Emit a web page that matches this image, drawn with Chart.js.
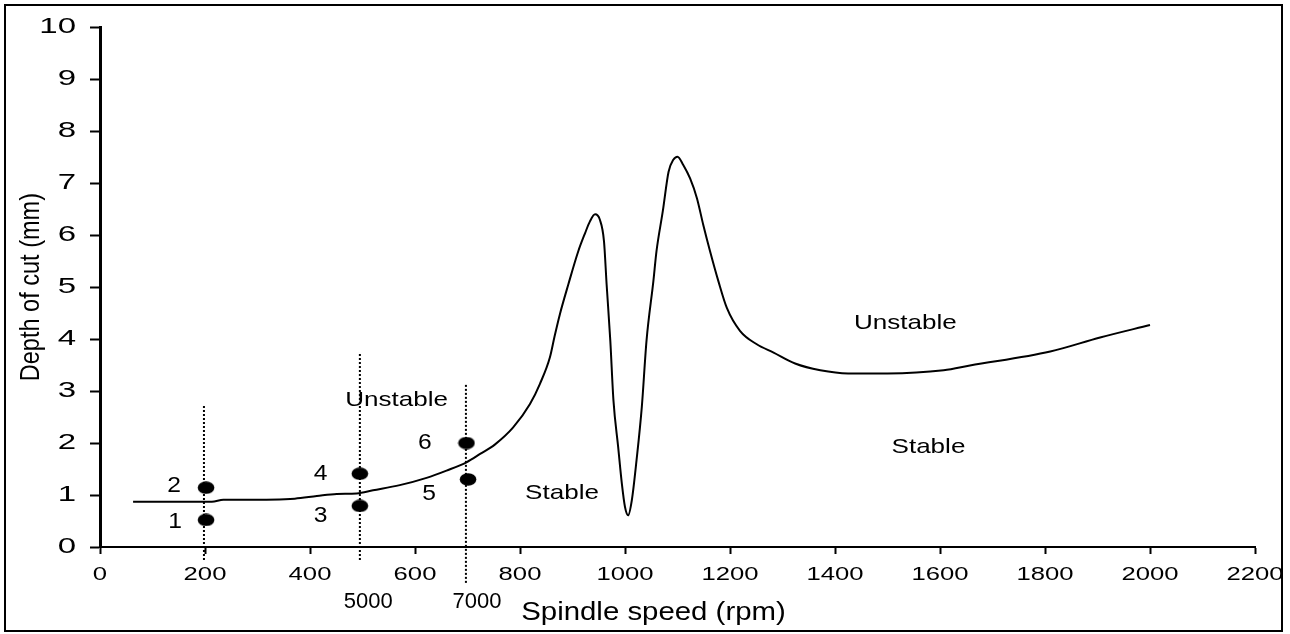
<!DOCTYPE html>
<html><head><meta charset="utf-8">
<script src="https://cdn.jsdelivr.net/npm/chart.js@4.4.1/dist/chart.umd.min.js"></script>
<style>html,body{margin:0;padding:0;background:#fff;}</style>
</head><body>
<canvas id="c" width="1290" height="634"></canvas>
<script>
// ---- data ----
const speeds = [63,213,235,272,371,413,451,489,520,571,622,660,698,724,752,787,819,838,857,866,876,892,911,924,933,943,952,960,965,972,978,987,994,1000,1006,1013,1022,1032,1041,1054,1060,1072,1083,1092,1100,1111,1124,1137,1149,1162,1178,1194,1219,1251,1283,1324,1372,1425,1500,1607,1657,1810,1905,2000];
const depths = [0.87,0.87,0.91,0.91,0.93,0.98,1.02,1.03,1.09,1.19,1.33,1.47,1.63,1.79,1.97,2.30,2.75,3.14,3.65,4.06,4.48,5.05,5.69,6.04,6.26,6.40,6.30,5.88,5.05,3.97,2.82,1.92,1.22,0.77,0.61,0.90,1.67,2.69,3.97,5.11,5.69,6.46,7.22,7.45,7.51,7.35,7.09,6.71,6.20,5.69,5.11,4.60,4.16,3.90,3.74,3.53,3.40,3.34,3.34,3.40,3.49,3.76,4.03,4.27];
const pointSpeeds = [202,202,495,495,701,698];
const pointDepths = [0.52,1.14,0.79,1.41,1.30,2.00];
const pointLabels = ['1','2','3','4','5','6'];
const labelSpeeds = [143,141,420,420,627,619];
const labelDepths = [0.48,1.17,0.59,1.40,1.02,2.01];
const guideSpeeds = [198,495,697];
const guideTops = [2.72,3.75,3.14];
const guideBottoms = [-0.25,-0.25,-0.69];
const regionTexts = ['Unstable','Stable','Unstable','Stable'];
const regionSpeeds = [565,880,1534,1578];
const regionDepths = [2.83,1.04,4.30,1.92];
const speedMarks = ['5000','7000'];
const speedMarkSpeeds = [511,718];
const speedMarkDepth = -1.05;
const xTitle = 'Spindle speed (rpm)';
const yTitle = 'Depth of cut (mm)';

// ---- text width adjustment to mimic the reference's stretched lettering ----
const canvas = document.getElementById('c');
const ctx = canvas.getContext('2d');
const STRETCH = {19:{sx:1.35,dx:0}, 22:{sx:1.5,dx:0}, 26:{sx:1.13,dx:-24}, 28:{sx:0.84,dx:0}};
const protoFill = CanvasRenderingContext2D.prototype.fillText;
ctx.fillText = function(t, x, y, mw){
  let cfg = this.__cfg;
  if (!cfg) { const m = /(\d+(?:\.\d+)?)px/.exec(this.font); cfg = m ? STRETCH[parseFloat(m[1])] : null; }
  if (!cfg || (cfg.sx === 1 && !cfg.dx)) { return mw === undefined ? protoFill.call(this,t,x,y) : protoFill.call(this,t,x,y,mw); }
  this.save(); this.translate(x + (cfg.dx||0), y); this.scale(cfg.sx, 1);
  if (mw === undefined) protoFill.call(this,t,0,0); else protoFill.call(this,t,0,0,mw/cfg.sx);
  this.restore();
};

// ellipse marker
const mk = document.createElement('canvas'); mk.width = 18; mk.height = 13;
const mc = mk.getContext('2d'); mc.fillStyle = '#000'; mc.beginPath(); mc.ellipse(9,6.5,8.3,6.2,0,0,Math.PI*2); mc.fill();

const curve = speeds.map((s,i)=>({x:s,y:depths[i]}));
const pts = pointSpeeds.map((s,i)=>({x:s,y:pointDepths[i]}));
const guides = guideSpeeds.map((s,i)=>({
  data:[{x:s,y:guideBottoms[i]},{x:s,y:guideTops[i]}],
  showLine:true, borderColor:'#000', borderWidth:2, borderDash:[2,2], pointRadius:0, clip:false, tension:0
}));

const annot = {
  id:'annot',
  beforeDraw(chart){ const c = chart.ctx; c.save(); c.strokeStyle='#000'; c.lineWidth=2; c.strokeRect(5,5,1277,626); c.restore(); },
  afterDatasetsDraw(chart){
    const c = chart.ctx, xs = chart.scales.x, ys = chart.scales.y;
    c.save(); c.fillStyle='#000'; c.textAlign='center'; c.textBaseline='middle';
    c.font = '22px "Liberation Sans"';
    c.__cfg = {sx:1.12,dx:0};
    pointLabels.forEach((t,i)=>c.fillText(t, xs.getPixelForValue(labelSpeeds[i]), ys.getPixelForValue(labelDepths[i])));
    c.__cfg = {sx:1.0,dx:0};
    speedMarks.forEach((t,i)=>c.fillText(t, xs.getPixelForValue(speedMarkSpeeds[i]), ys.getPixelForValue(speedMarkDepth)));
    c.font = '21px "Liberation Sans"';
    c.__cfg = {sx:1.24,dx:0};
    regionTexts.forEach((t,i)=>c.fillText(t, xs.getPixelForValue(regionSpeeds[i]), ys.getPixelForValue(regionDepths[i])));
    c.__cfg = undefined;
    c.restore();
  }
};

new Chart(ctx, {
  type:'scatter',
  data:{ datasets:[
    {data:pts, pointStyle:mk, pointRadius:8, pointHoverRadius:8, showLine:false, clip:false},
    {data:curve, showLine:true, borderColor:'#000', borderWidth:2, pointRadius:0, cubicInterpolationMode:'monotone', fill:false},
    ...guides
  ]},
  options:{
    responsive:false, devicePixelRatio:1, animation:false,
    layout:{padding:{left:0, top:25, right:35, bottom:0}},
    plugins:{legend:{display:false}, tooltip:{enabled:false}},
    scales:{
      x:{type:'linear', min:0, max:2200,
        afterFit(s){ s.height = 87; },
        ticks:{stepSize:200, color:'#000', padding:9, maxRotation:0, font:{family:'Liberation Sans', size:19}, callback:(v)=>String(v)},
        grid:{display:true, drawOnChartArea:false, drawTicks:true, tickLength:7, tickWidth:2, tickColor:'#000', color:'#000'},
        border:{display:true, color:'#000', width:2},
        title:{display:true, text:xTitle, color:'#000', font:{family:'Liberation Sans', size:26}, padding:{top:0,bottom:6}}
      },
      y:{type:'linear', min:0, max:10,
        afterFit(s){ s.width = 100; },
        ticks:{stepSize:1, color:'#000', padding:14, font:{family:'Liberation Sans', size:22}, callback:(v)=>String(v)},
        grid:{display:true, drawOnChartArea:false, drawTicks:true, tickLength:10, tickWidth:2, tickColor:'#000', color:'#000'},
        border:{display:true, color:'#000', width:3},
        title:{display:true, text:yTitle, color:'#000', font:{family:'Liberation Sans', size:28}, padding:{top:14,bottom:0}}
      }
    }
  },
  plugins:[annot]
});
</script>
</body></html>
